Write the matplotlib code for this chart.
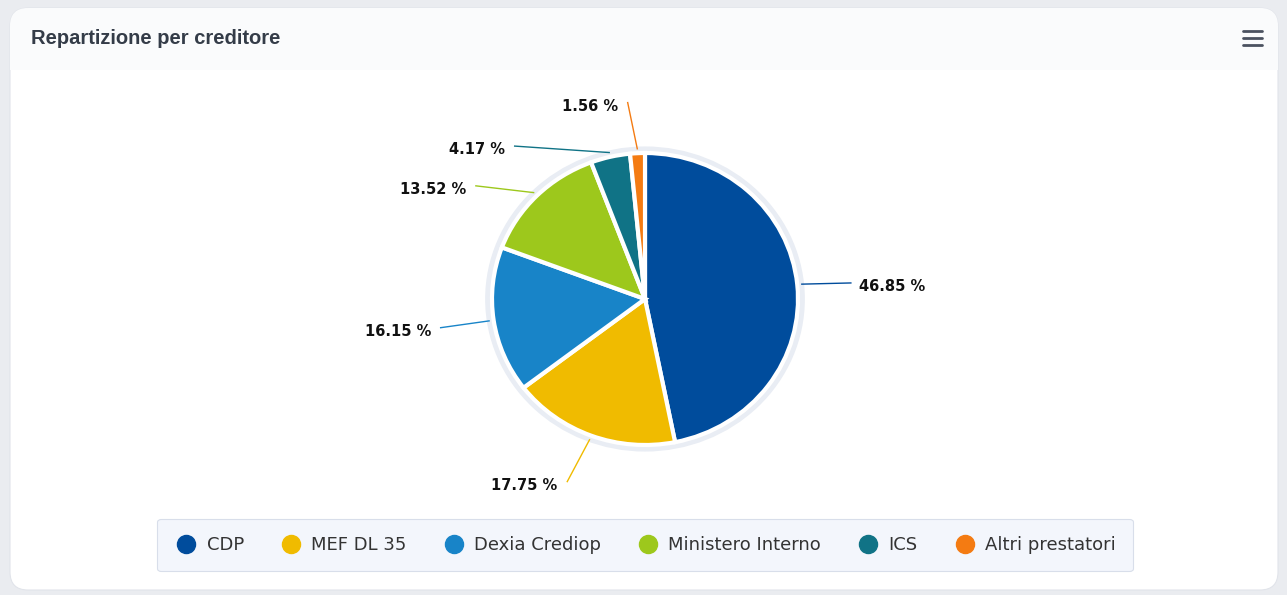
import numpy as np
import matplotlib.pyplot as plt
from matplotlib.patches import FancyBboxPatch, Ellipse, Rectangle
from matplotlib.lines import Line2D

categories = ["CDP", "MEF DL 35", "Dexia Crediop", "Ministero Interno", "ICS", "Altri prestatori"]
shares = [46.85, 17.75, 16.15, 13.52, 4.17, 1.56]
colors = ["#004c9c", "#f0bb00", "#1884c8", "#9dc81c", "#107386", "#f47b12"]

# label nudges (degrees) so the small slices' labels don't collide
label_shift = [-1, -1.5, 0, 10, 26, 2]

W, H = 1287, 595
fig = plt.figure(figsize=(W / 100, H / 100), dpi=100)
fig.patch.set_facecolor("#eaecf0")

# background axes in pixel units
bg = fig.add_axes([0, 0, 1, 1])
bg.set_xlim(0, W)
bg.set_ylim(H, 0)
bg.axis("off")

card = FancyBboxPatch((10, 8), 1268, 582, boxstyle="round,pad=0,rounding_size=18",
                      fc="white", ec="#e1e4ea", lw=0.8)
bg.add_patch(card)
head = Rectangle((10, 8), 1268, 62, fc="#fafbfc", ec="none")
head.set_clip_path(card)
bg.add_patch(head)

bg.text(31, 39, "Repartizione per creditore", fontsize=14.5, fontweight="bold",
        color="#343c48", va="center", family="Liberation Sans")
for y in (31, 38, 45):
    bg.plot([1243, 1262], [y, y], color="#4b5260", lw=2, solid_capstyle="round")

# pie axes, slightly wider than tall like the reference
cx, cy = 645, 299
rx, ry = 153, 146
span = 1.6
ax = fig.add_axes([(cx - span * rx) / W, (H - cy - span * ry) / H,
                   2 * span * rx / W, 2 * span * ry / H])
ax.add_patch(Ellipse((0, 0), 2.09, 2.09, fc="#e9edf4", ec="none", zorder=0))
wedges, _ = ax.pie(shares, colors=colors, startangle=90, counterclock=False,
                   radius=1.0, wedgeprops=dict(edgecolor="white", linewidth=3))
ax.set_aspect("auto")
ax.set_xlim(-span, span)
ax.set_ylim(-span, span)
ax.axis("off")

for w, v, c, sh in zip(wedges, shares, colors, label_shift):
    mid = np.deg2rad((w.theta1 + w.theta2) / 2)
    lab = mid + np.deg2rad(sh)
    x0, y0 = 1.03 * np.cos(mid), 1.03 * np.sin(mid)
    x1, y1 = 1.35 * np.cos(lab), 1.35 * np.sin(lab)
    ax.plot([x0, x1], [y0, y1], color=c, lw=1, clip_on=False)
    right = x1 > 0
    ax.annotate(f"{v:.2f} %", xy=(x1, y1), xytext=(6 if right else -7, -2.5),
                textcoords="offset points", ha="left" if right else "right",
                va="center", fontsize=10.5, fontweight="bold", color="#111111",
                family="DejaVu Sans", annotation_clip=False)

handles = [Line2D([], [], marker="o", ls="none", markersize=13,
                  markerfacecolor=c, markeredgecolor=c) for c in colors]
leg = fig.legend(handles, categories, loc="center", bbox_to_anchor=(645 / W, 1 - 545 / H),
                 ncol=6, frameon=True, fancybox=True, handlelength=1.33, handletextpad=0.45,
                 columnspacing=1.95, borderpad=0.95,
                 prop={"family": "DejaVu Sans", "size": 13})
for t in leg.get_texts():
    t.set_color("#333333")
fr = leg.get_frame()
fr.set_facecolor("#f3f6fc")
fr.set_edgecolor("#d8deea")
fr.set_alpha(1)
fr.set_linewidth(0.8)

fig.savefig("out.png", dpi=100, facecolor=fig.get_facecolor())
